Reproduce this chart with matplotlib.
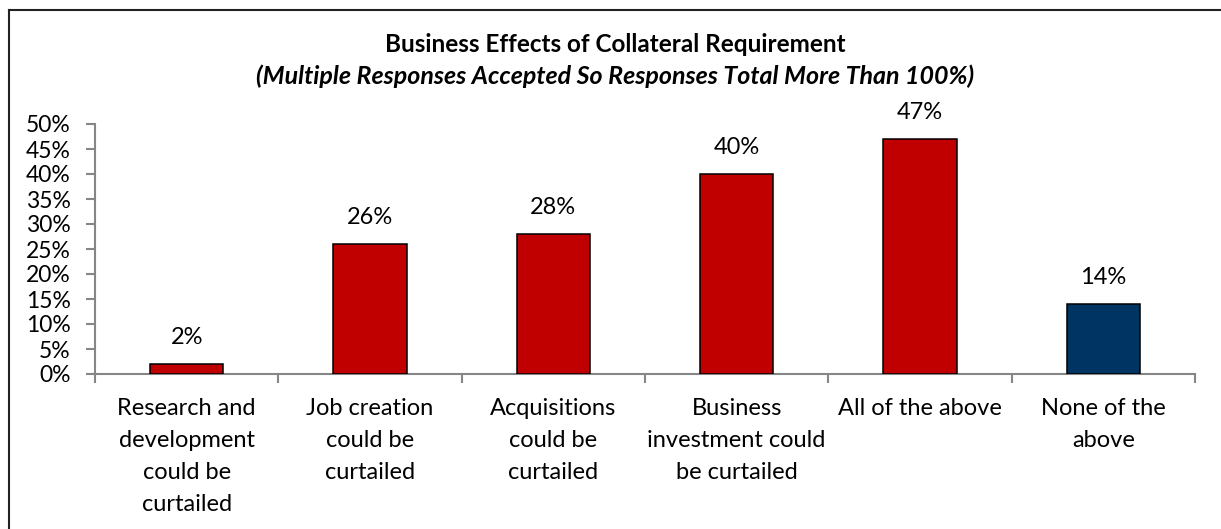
import matplotlib.pyplot as plt
from matplotlib.lines import Line2D
import numpy as np

plt.rcParams["font.family"] = ["Lato", "DejaVu Sans"]

categories = [
    "Research and\ndevelopment\ncould be\ncurtailed",
    "Job creation\ncould be\ncurtailed",
    "Acquisitions\ncould be\ncurtailed",
    "Business\ninvestment could\nbe curtailed",
    "All of the above",
    "None of the\nabove",
]
shares = [2, 26, 28, 40, 47, 14]
bar_colors = ["#C00000", "#C00000", "#C00000", "#C00000", "#C00000", "#003462"]
yticks = [0, 5, 10, 15, 20, 25, 30, 35, 40, 45, 50]

W, H = 1221, 529
fig = plt.figure(figsize=(W / 100, H / 100), dpi=100)
ax = fig.add_axes([95 / W, 1 - 374 / H, (1195 - 95) / W, (374 - 124) / H])

x = np.arange(len(categories))
bars = ax.bar(x, shares, width=0.4, color=bar_colors, edgecolor="black", linewidth=1.1, zorder=3)
for b, v in zip(bars, shares):
    ax.annotate(f"{v}%", (b.get_x() + b.get_width() / 2, v), xytext=(0, 19),
                textcoords="offset points", ha="center", va="center", fontsize=17)

ax.set_xlim(-0.5, len(categories) - 0.5)
ax.set_ylim(0, 50)
ax.set_yticks(yticks)
ax.set_yticklabels([f"{t}%" for t in yticks], fontsize=16.5)
ax.set_xticks(x)
ax.set_xticklabels(categories, fontsize=17, linespacing=1.65)
ax.set_xticks(np.arange(len(categories) + 1) - 0.5, minor=True)
ax.tick_params(axis="x", which="major", length=0, pad=17)
ax.tick_params(axis="x", which="minor", length=6.5, width=1.5, color="#868686")
ax.tick_params(axis="y", length=6.5, width=1.5, color="#868686", pad=11)

for s in ["top", "right"]:
    ax.spines[s].set_visible(False)
for s in ["left", "bottom"]:
    ax.spines[s].set_color("#868686")
    ax.spines[s].set_linewidth(1.5)

fig.text(0.504, 1 - 45 / H, "Business Effects of Collateral Requirement",
         ha="center", va="center", fontsize=17.5, fontweight="bold")
fig.text(0.504, 1 - 76 / H,
         "(Multiple Responses Accepted So Responses Total More Than 100%)",
         ha="center", va="center", fontsize=18, fontweight="bold", style="italic")

# chart frame (only top and left edges show)
fig.add_artist(Line2D([8.5 / W, 1], [1 - 9.5 / H, 1 - 9.5 / H], color="#222222", lw=1.5))
fig.add_artist(Line2D([8.5 / W, 8.5 / W], [0, 1 - 9.5 / H], color="#222222", lw=1.5))

fig.savefig("out.png", dpi=100)
